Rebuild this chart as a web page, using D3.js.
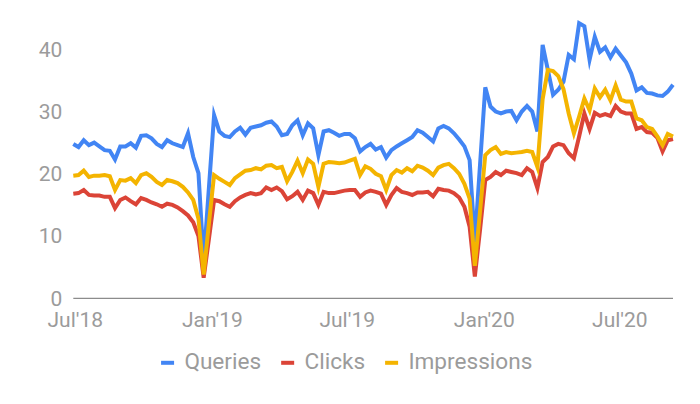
<!DOCTYPE html>
<html>
<head>
<meta charset="utf-8">
<script src="https://cdn.jsdelivr.net/npm/d3@7"></script>
<style>
  html, body { margin: 0; padding: 0; background: #fff; }
  svg { display: block; }
  text { font-family: Roboto, "Noto Sans", sans-serif; }
</style>
</head>
<body>
<svg id="chart" width="700" height="404"></svg>
<script>
// ---- data (weekly, starting 2018-06-29) ----
const startDate = new Date(2018, 5, 29);
const seriesNames = ["Queries", "Clicks", "Impressions"];
const seriesColors = ["#4285F4", "#DB4437", "#F4B400"];

const queries = [
24.8,24.3,25.4,24.6,25.0,24.4,23.8,23.7,22.3,24.4,
24.4,24.9,24.2,26.1,26.2,25.7,24.8,24.3,25.4,24.9,
24.6,24.3,26.5,22.7,20.1,6.0,17.7,29.4,26.8,26.1,
25.9,26.8,27.4,26.3,27.4,27.6,27.8,28.2,28.4,27.6,
26.2,26.4,27.8,28.6,26.2,28.1,27.3,23.0,26.8,27.0,
26.6,26.1,26.4,26.4,25.7,23.6,24.3,24.8,23.9,24.3,
22.6,23.8,24.4,24.9,25.4,25.9,27.0,26.6,25.9,25.2,
27.3,27.7,27.3,26.5,25.5,24.4,22.2,9.0,21.5,33.9,
30.8,30.0,29.7,30.0,30.1,28.6,30.0,30.9,30.0,26.8,
40.7,36.7,32.7,33.5,34.8,39.1,38.4,44.2,43.7,38.3,
42.0,39.6,40.3,38.7,40.1,39.0,37.9,36.1,33.4,33.9,
33.0,32.9,32.6,32.5,33.2,34.3
];

const clicks = [
16.8,16.9,17.4,16.6,16.5,16.5,16.3,16.3,14.5,15.8,
16.2,15.6,15.1,16.1,15.8,15.4,15.1,14.7,15.2,15.0,
14.6,14.0,13.3,12.2,10.0,3.3,9.5,15.8,15.6,15.1,
14.7,15.6,16.2,16.6,16.9,16.7,16.9,17.8,17.4,17.8,
17.2,15.9,16.4,17.1,15.8,17.3,16.9,15.0,17.1,16.9,
16.9,17.1,17.3,17.4,17.4,16.3,17.0,17.3,17.1,16.8,
15.0,16.6,17.7,17.1,16.9,16.6,17.0,17.0,17.1,16.4,
17.6,17.4,17.3,16.9,16.2,14.7,11.5,3.5,11.0,19.0,
19.5,20.3,19.8,20.5,20.3,20.1,19.8,20.9,20.3,17.7,
21.9,22.7,24.4,24.8,24.6,23.3,22.5,26.0,29.7,27.2,
29.8,29.3,29.6,29.3,30.9,30.0,29.7,29.7,27.2,27.5,
26.7,26.6,25.8,23.6,25.4,25.6
];

const impressions = [
19.7,19.8,20.5,19.5,19.7,19.7,19.8,19.6,17.4,19.0,
18.9,19.3,18.5,19.8,20.1,19.5,18.7,18.2,19.0,18.8,
18.5,17.9,17.0,15.8,12.8,3.8,12.0,19.8,19.2,18.7,
18.2,19.3,19.9,20.5,20.6,20.9,20.7,21.3,21.4,20.9,
21.1,18.8,20.3,22.1,20.1,22.3,21.6,17.9,21.6,21.9,
21.8,21.7,21.8,22.1,22.4,19.8,21.2,20.8,20.0,19.6,
17.4,19.8,20.6,20.2,20.9,20.4,21.3,21.0,20.5,19.8,
21.0,21.4,21.6,20.9,20.0,18.4,16.0,5.2,14.0,23.0,
23.8,24.3,23.2,23.5,23.3,23.4,23.5,23.7,23.5,21.1,
32.0,36.7,36.5,35.7,33.6,29.7,26.5,29.2,32.1,30.2,
33.7,32.3,33.5,31.8,34.2,31.9,31.6,31.6,28.9,28.6,
27.5,27.2,26.0,24.6,26.4,26.0
];

const yTicks = [0, 10, 20, 30, 40];
const xTickDates = [new Date(2018,6,1), new Date(2019,0,1), new Date(2019,6,1), new Date(2020,0,1), new Date(2020,6,1)];
const xTickLabels = ["Jul'18", "Jan'19", "Jul'19", "Jan'20", "Jul'20"];

// ---- build ----
(function () {
const dates = queries.map((_, i) => d3.timeDay.offset(startDate, 7 * i));
const allSeries = [queries, clicks, impressions];

const svg = d3.select("#chart");
const plotLeft = 73.3, plotRight = 673, plotBottom = 298.3, plotTop = 49.3;

const x = d3.scaleTime().domain([dates[0], dates[dates.length - 1]]).range([plotLeft, plotRight]);
const y = d3.scaleLinear().domain([0, 40]).range([plotBottom, plotTop]);

const textColor = "#9b9b9b";
const fs = 21;
const legendFs = 22.6;

// y labels
const yAxis = d3.axisLeft(y).tickValues(yTicks).tickSize(0).tickPadding(11);
const gy = svg.append("g").attr("transform", `translate(${plotLeft},0)`).call(yAxis);
gy.select(".domain").remove();
gy.selectAll("text").attr("fill", textColor).style("font-size", fs + "px").style("font-family", "Roboto");

// x labels
const xAxis = d3.axisBottom(x).tickValues(xTickDates).tickFormat((d, i) => xTickLabels[i]).tickSize(0).tickPadding(14);
const gx = svg.append("g").attr("transform", `translate(0,${plotBottom})`).call(xAxis);
gx.select(".domain").remove();
gx.selectAll("text").attr("fill", textColor).style("font-size", fs + "px").style("font-family", "Roboto");

// baseline
svg.append("line")
  .attr("x1", plotLeft).attr("x2", plotRight)
  .attr("y1", y(0)).attr("y2", y(0))
  .attr("stroke", "#8c8c8c").attr("stroke-width", 1.3);

// lines
const line = d3.line().x((d, i) => x(dates[i])).y(d => y(d));
allSeries.forEach((s, si) => {
  svg.append("path")
    .datum(s)
    .attr("d", line)
    .attr("fill", "none")
    .attr("stroke", seriesColors[si])
    .attr("stroke-width", 4)
    .attr("stroke-linejoin", "miter")
    .attr("stroke-miterlimit", 6);
});

// legend
const lg = svg.append("g");
let cx = 0;
seriesNames.forEach((name, i) => {
  const g = lg.append("g").attr("transform", `translate(${cx},0)`);
  g.append("rect").attr("x", 0).attr("y", -8.5).attr("width", 13).attr("height", 4).attr("fill", seriesColors[i]);
  const t = g.append("text").attr("x", 23.3).attr("y", 0).text(name)
    .attr("fill", textColor).style("font-size", legendFs + "px");
  const w = t.node().getComputedTextLength();
  cx += 23.3 + w + 20;
});
const totalW = cx - 20;
lg.attr("transform", `translate(${346.7 - totalW / 2},369.3)`);
})();
</script>
</body>
</html>
